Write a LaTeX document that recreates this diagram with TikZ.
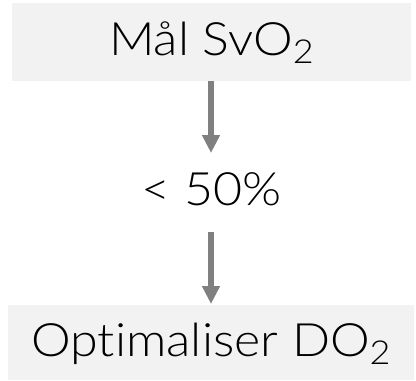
\documentclass[tikz,border=0pt]{standalone}
\usepackage{fontspec}
\setmainfont[Ligatures={NoCommon},FakeStretch=1.09]{Lato Light}
\usetikzlibrary{arrows.meta}
\definecolor{boxgray}{RGB}{242,242,242}
\definecolor{arrgray}{RGB}{128,128,128}
\newcommand{\subtwo}{\raisebox{-8pt}{\fontsize{33}{33}\selectfont 2}}
\tikzset{
  box/.style={fill=boxgray, draw=none, inner sep=0pt, font=\fontsize{46}{46}\selectfont},
  lbl/.style={inner sep=0pt, font=\fontsize{46}{46}\selectfont},
  arr/.style={draw=arrgray, line width=6.5pt, -{Triangle[width=17pt,length=18pt]}}
}
\begin{document}
\begin{tikzpicture}[x=1pt,y=-1pt]
\useasboundingbox (0,0) rectangle (416,381);
\node[box, minimum width=399pt, minimum height=78pt] (top) at (211.5,42) {};
\node[lbl, anchor=base] (toptext) at (211.5,55) {Mål SvO\subtwo};
\node[lbl, anchor=base] (mid) at (211.5,205) {< 50\%};
\node[box, minimum width=406pt, minimum height=75pt] (bot) at (211,342.5) {};
\node[lbl, anchor=base] (bottext) at (211,356) {Optimaliser DO\subtwo};
\coordinate (a1s) at (211,81);
\coordinate (a1e) at (211,153);
\coordinate (a2s) at (211,232);
\coordinate (a2e) at (211,304);
\draw[arr] (a1s) -- (a1e);
\draw[arr] (a2s) -- (a2e);
\end{tikzpicture}
\end{document}
